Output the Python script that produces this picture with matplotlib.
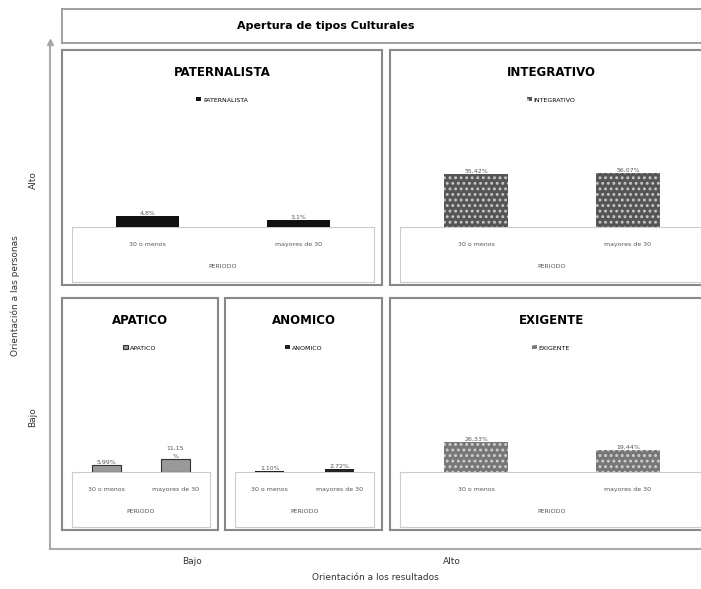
import matplotlib
matplotlib.use('Agg')
import matplotlib.pyplot as plt

plt.rcParams['font.family'] = ['DejaVu Sans']
plt.rcParams['hatch.linewidth'] = 1.3

W, H = 701, 589

# datos
periodos = ['30 o menos', 'mayores de 30']
paternalista = [4.8, 3.1]
integrativo = [55.42, 56.07]
apatico = [5.99, 11.15]
anomico = [1.10, 2.72]
exigente = [26.33, 19.44]
etiquetas_pat = ['4,8%', '3,1%']
etiquetas_int = ['55,42%', '56,07%']
etiquetas_apa = ['5,99%', '11,15\n%']
etiquetas_ano = ['1,10%', '2,72%']
etiquetas_exi = ['26,33%', '19,44%']


def fbox(x0, y0, x1, y1):
    return [x0 / W, 1 - y1 / H, (x1 - x0) / W, (y1 - y0) / H]


fig = plt.figure(figsize=(W / 100, H / 100), dpi=100)

# ejes principales
ax = fig.add_axes(fbox(50, 42, 701, 549))
ax.set_xlim(0, 1)
ax.set_ylim(0, 1)
for s in ['top', 'right']:
    ax.spines[s].set_visible(False)
for s in ['left', 'bottom']:
    ax.spines[s].set_color('#aaaaaa')
    ax.spines[s].set_linewidth(1.5)
ax.plot(0, 1, marker='^', color='#aaaaaa', markersize=5, transform=ax.transAxes, clip_on=False)
ax.set_xticks([0.218, 0.617], ['Bajo', 'Alto'])
ax.set_yticks([0.26, 0.728], ['Bajo', 'Alto'], rotation=90, va='center')
ax.tick_params(length=0, labelsize=6.5, colors='#333333', pad=6)
ax.tick_params(axis='y', pad=9)
ax.set_xlabel('Orientación a los resultados', fontsize=6.5, color='#333333', labelpad=5)
ax.set_ylabel('Orientación a las personas', fontsize=6.5, color='#333333', labelpad=6)

# caja del titulo
at = fig.add_axes(fbox(62, 9, 701, 43))
at.set_xticks([])
at.set_yticks([])
for s in at.spines.values():
    s.set_color('#999999')
    s.set_linewidth(1.3)
at.spines['right'].set_visible(False)
at.text(0.413, 0.5, 'Apertura de tipos Culturales', ha='center', va='center',
        fontsize=8, fontweight='bold', transform=at.transAxes)


def panel(box, titulo, vals, etiquetas, ymax, estilo):
    x0, y0, x1, y1 = box
    pa = fig.add_axes(fbox(*box))
    pa.set_xticks([])
    pa.set_yticks([])
    for s in pa.spines.values():
        s.set_color('#888888')
        s.set_linewidth(1.5)
    cx = (x0 + x1) / 2
    fig.text(cx / W, 1 - (y0 + 22) / H, titulo, ha='center', va='center',
             fontsize=8.5, fontweight='bold')

    base = y1 - 58
    # caja interior del eje de categorias
    ib = fig.add_axes(fbox(x0 + 10, base, x1 - 8, y1 - 3))
    ib.set_xticks([])
    ib.set_yticks([])
    for s in ib.spines.values():
        s.set_color('#cccccc')
        s.set_linewidth(0.8)

    bx = fig.add_axes(fbox(x0 + 10, y0 + 60, x1 - 8, base))
    bx.patch.set_alpha(0)
    bars = bx.bar(range(len(vals)), vals, width=0.42, label=titulo, **estilo)
    bx.set_xlim(-0.5, 1.5)
    bx.set_ylim(0, ymax)
    for sp in bx.spines.values():
        sp.set_visible(False)
    bx.set_yticks([])
    bx.set_xticks(range(len(periodos)), periodos)
    bx.tick_params(axis='x', length=0, labelsize=4.5, pad=11, colors='#555555')
    bx.set_xlabel('PERIODO', fontsize=4.5, color='#555555', labelpad=12)
    for b, t in zip(bars, etiquetas):
        bx.text(b.get_x() + b.get_width() / 2, b.get_height(), t, ha='center', va='bottom',
                fontsize=4.5, color='#555555', linespacing=1.8)
    bx.legend(loc='center', bbox_to_anchor=(cx / W, 1 - (y0 + 50) / H),
              bbox_transform=fig.transFigure, frameon=False, fontsize=4.5,
              handlelength=0.8, handleheight=0.6, handletextpad=0.3)


panel((62, 50, 382, 285), 'PATERNALISTA', paternalista, etiquetas_pat, 50,
      dict(color='#111111'))
panel((390, 50, 712, 285), 'INTEGRATIVO', integrativo, etiquetas_int, 122,
      dict(facecolor='#555555', edgecolor='#c8c8c8', hatch='...', linewidth=0))
panel((62, 298, 218, 530), 'APATICO', apatico, etiquetas_apa, 100,
      dict(facecolor='#999999', edgecolor='#333333', linewidth=0.8))
panel((225, 298, 382, 530), 'ANOMICO', anomico, etiquetas_ano, 100,
      dict(color='#222222'))
panel((390, 298, 712, 530), 'EXIGENTE', exigente, etiquetas_exi, 99,
      dict(facecolor='#777777', edgecolor='#d0d0d0', hatch='...', linewidth=0))

fig.savefig('out.png', dpi=100)
